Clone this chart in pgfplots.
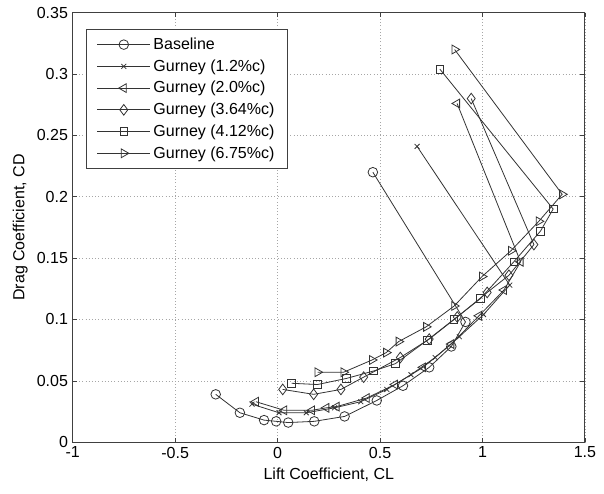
\documentclass[border=0pt]{standalone}
\usepackage{pgfplots}
\pgfplotsset{compat=1.18}
\usepackage{fontspec}
\setmainfont{Liberation Sans}
\begin{document}
\begin{tikzpicture}[font=\fontsize{12}{14.4}\selectfont]
\useasboundingbox (-54.5pt,-38.6pt) rectangle (398.3pt,331.5pt);
\begin{axis}[
  width=384pt, height=322pt, scale only axis,
  xmin=-1, xmax=1.5, ymin=0, ymax=0.35,
  xtick={-1,-0.5,0,0.5,1,1.5},
  ytick={0,0.05,0.1,0.15,0.2,0.25,0.3,0.35},
  xticklabels={-1,-0.5,0,0.5,1,1.5},
  yticklabels={0,0.05,0.1,0.15,0.2,0.25,0.3,0.35},
  scaled ticks=false,
  /pgf/number format/assume math mode=true,
  tick align=inside, major tick length=3.5pt,
  axis line style={black!75, line width=0.7pt},
  tick style={black!75, line width=0.5pt},
  grid=major, grid style={dotted, black!35, line width=0.5pt},
  xlabel={Lift Coefficient, CL},
  ylabel={Drag Coefficient, CD},
  every axis plot/.append style={black!80, line width=0.6pt},
  legend style={at={(0.0255,0.961)}, anchor=north west, draw=black!75, line width=0.6pt,
    fill=white, font=\fontsize{12}{14.4}\selectfont, row sep=2.1pt, inner xsep=8pt, inner ysep=4pt,
    /tikz/every even column/.append style={column sep=3pt}},
  legend cell align=left,
  legend image code/.code={\draw[mark repeat=2,mark phase=2,#1] plot coordinates {(0cm,0cm) (0.7cm,0cm) (1.4cm,0cm)};},
]
\addplot[mark=o, mark size=3.6pt, mark options={solid, black!80}] coordinates {
(-0.302,0.039) (-0.184,0.024) (-0.066,0.018) (-0.007,0.017) (0.052,0.016) (0.179,0.017)
(0.327,0.021) (0.484,0.034) (0.612,0.046) (0.740,0.061) (0.848,0.078) (0.917,0.098) (0.465,0.220)};
\addlegendentry{Baseline}
\addplot[mark=x, mark size=2.6pt, mark options={solid, black!80}] coordinates {
(-0.125,0.031) (0.007,0.024) (0.140,0.024) (0.278,0.028) (0.406,0.033) (0.533,0.043)
(0.651,0.055) (0.769,0.069) (0.887,0.086) (1.005,0.104) (1.133,0.128) (0.681,0.241)};
\addlegendentry{Gurney (1.2\%c)}
\addplot[mark=triangle, mark size=3.8pt, mark options={solid, black!80, rotate=90}] coordinates {
(-0.106,0.033) (0.032,0.026) (0.168,0.026) (0.238,0.028) (0.288,0.029) (0.435,0.036)
(0.573,0.047) (0.710,0.061) (0.848,0.080) (0.983,0.103) (1.105,0.124) (1.186,0.147) (0.876,0.276)};
\addlegendentry{Gurney (2.0\%c)}
\addplot[mark=diamond, mark size=4pt, mark options={solid, black!80}] coordinates {
(0.025,0.043) (0.176,0.039) (0.309,0.043) (0.420,0.053) (0.599,0.069) (0.740,0.084)
(0.877,0.102) (1.023,0.122) (1.129,0.136) (1.251,0.161) (0.945,0.280)};
\addlegendentry{Gurney (3.64\%c)}
\addplot[mark=square, mark size=2.9pt, mark options={solid, black!80}] coordinates {
(0.069,0.048) (0.195,0.047) (0.337,0.052) (0.468,0.058) (0.575,0.064) (0.730,0.083)
(0.860,0.100) (0.990,0.117) (1.153,0.147) (1.283,0.172) (1.345,0.190) (0.792,0.304)};
\addlegendentry{Gurney (4.12\%c)}
\addplot[mark=triangle, mark size=3.8pt, mark options={solid, black!80, rotate=-90}] coordinates {
(0.195,0.057) (0.322,0.057) (0.461,0.067) (0.530,0.073) (0.591,0.082) (0.725,0.094)
(0.862,0.111) (0.998,0.135) (1.139,0.156) (1.275,0.180) (1.389,0.202) (0.864,0.320)};
\addlegendentry{Gurney (6.75\%c)}
\end{axis}
\end{tikzpicture}
\end{document}
